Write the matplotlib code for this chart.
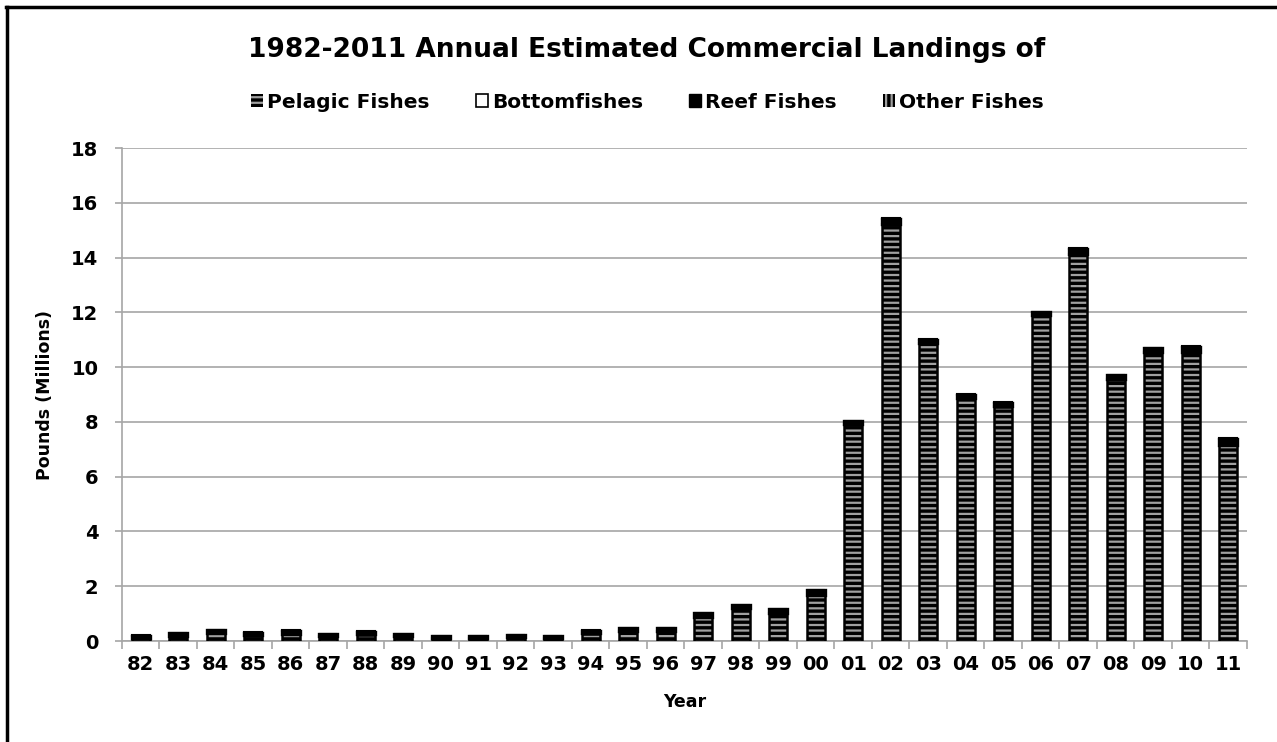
import matplotlib
matplotlib.use("Agg")
import matplotlib.pyplot as plt
from matplotlib.lines import Line2D
from matplotlib.patches import Patch
import numpy as np

plt.rcParams["font.family"] = "DejaVu Sans"
plt.rcParams["font.weight"] = "bold"
plt.rcParams["hatch.linewidth"] = 1.6

years = ["82", "83", "84", "85", "86", "87", "88", "89", "90", "91",
         "92", "93", "94", "95", "96", "97", "98", "99", "00", "01",
         "02", "03", "04", "05", "06", "07", "08", "09", "10", "11"]

# landings in millions of pounds
pelagic = [0.10, 0.18, 0.28, 0.19, 0.24, 0.15, 0.22, 0.15, 0.09, 0.09,
           0.13, 0.09, 0.26, 0.34, 0.34, 0.86, 1.20, 1.00, 1.67, 7.90,
           15.20, 10.86, 8.86, 8.56, 11.90, 14.11, 9.53, 10.53, 10.55, 7.15]
bottom = [0.02, 0.02, 0.02, 0.02, 0.02, 0.02, 0.02, 0.02, 0.02, 0.02,
          0.02, 0.02, 0.02, 0.02, 0.02, 0.02, 0.02, 0.02, 0.02, 0.02,
          0.02, 0.02, 0.02, 0.02, 0.02, 0.02, 0.02, 0.02, 0.02, 0.02]
reef = [0.08, 0.10, 0.10, 0.10, 0.12, 0.08, 0.10, 0.08, 0.06, 0.06,
        0.06, 0.06, 0.10, 0.12, 0.12, 0.15, 0.10, 0.15, 0.18, 0.10,
        0.20, 0.12, 0.12, 0.12, 0.08, 0.20, 0.15, 0.15, 0.18, 0.22]
other = [0.01, 0.01, 0.01, 0.01, 0.01, 0.01, 0.01, 0.01, 0.01, 0.01,
         0.01, 0.01, 0.01, 0.01, 0.01, 0.01, 0.01, 0.01, 0.01, 0.01,
         0.01, 0.01, 0.01, 0.01, 0.01, 0.01, 0.01, 0.01, 0.01, 0.01]

fig = plt.figure(figsize=(12.77, 7.42), dpi=100)
ax = fig.add_axes([0.0955, 0.1361, 0.881, 0.6644])

x = np.arange(len(years))
width = 0.48
grid_grey = "#a6a6a6"

# pelagic: black fill with grey horizontal stripes, outlined in black
ax.bar(x, pelagic, width, color="black", edgecolor="#a0a0a0", hatch="---",
       linewidth=0, zorder=3)
ax.bar(x, pelagic, width, facecolor="none", edgecolor="black", linewidth=1.8,
       zorder=4)
base = np.array(pelagic)
ax.bar(x, bottom, width, bottom=base, color="white", edgecolor="black",
       linewidth=1.5, zorder=3)
base = base + np.array(bottom)
ax.bar(x, reef, width, bottom=base, color="black", edgecolor="black",
       linewidth=2.4, zorder=5)
base = base + np.array(reef)
ax.bar(x, other, width, bottom=base, color="black", edgecolor="black",
       hatch="|||", linewidth=1.5, zorder=3)

ax.set_xlim(-0.5, len(years) - 0.5)
ax.set_ylim(0, 18)
ax.set_yticks(np.arange(0, 19, 2))
ax.set_xticks(x, years)
ax.set_xticks(np.arange(-0.5, len(years)), minor=True)
ax.tick_params(axis="x", which="major", length=0, pad=10, labelsize=14)
ax.tick_params(axis="x", which="minor", length=6, color=grid_grey, width=1.2)
ax.tick_params(axis="y", length=5, color=grid_grey, width=1.2, pad=12,
               labelsize=14)
ax.grid(axis="y", color=grid_grey, linewidth=1.2, zorder=0)
ax.set_axisbelow(True)
for side in ("top", "right"):
    ax.spines[side].set_visible(False)
for side in ("left", "bottom"):
    ax.spines[side].set_color(grid_grey)
    ax.spines[side].set_linewidth(1.2)

ax.set_ylabel("Pounds (Millions)", fontsize=12.5, fontweight="bold", labelpad=12)
ax.set_xlabel("Year", fontsize=12.5, fontweight="bold", labelpad=14)

fig.text(0.506, 0.933, "1982-2011 Annual Estimated Commercial Landings of",
         ha="center", va="center", fontsize=19, fontweight="bold")

handles = [
    Patch(facecolor="black", edgecolor="#a0a0a0", hatch="---", linewidth=0),
    Patch(facecolor="white", edgecolor="black", linewidth=1.2),
    Patch(facecolor="black", edgecolor="black"),
    Patch(facecolor="black", edgecolor="#a0a0a0", hatch="|||", linewidth=0),
]
fig.legend(handles, ["Pelagic Fishes", "Bottomfishes", "Reef Fishes", "Other Fishes"],
           loc="center", bbox_to_anchor=(0.507, 0.862), ncol=4, frameon=False,
           fontsize=14.5, handlelength=0.6, handleheight=0.6, handletextpad=0.2,
           columnspacing=2.3)

# frame around the chart
fig.add_artist(Line2D([0.0055, 0.0055], [0, 0.991], color="black", linewidth=2.5,
                      transform=fig.transFigure))
fig.add_artist(Line2D([0.0045, 1.0], [0.99, 0.99], color="black", linewidth=2.5,
                      transform=fig.transFigure))

fig.savefig("out.png", dpi=100)
